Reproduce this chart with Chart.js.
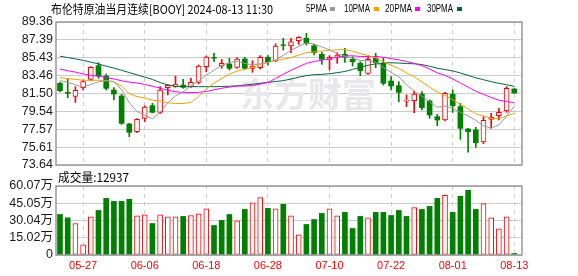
<!DOCTYPE html>
<html><head><meta charset="utf-8">
<script src="https://cdn.jsdelivr.net/npm/chart.js@4.4.1/dist/chart.umd.min.js"></script>
<style>
html,body{margin:0;padding:0;background:#fff;width:578px;height:276px;overflow:hidden}
#wrap{position:relative;width:578px;height:276px}
canvas{position:absolute;left:0;top:0}
</style></head><body>
<div id="wrap">
<canvas id="pc" width="578" height="276"></canvas>
<canvas id="vc" width="578" height="276"></canvas>
</div>
<script>
// ---------------- DATA ----------------
const dates = ['05-22','05-23','05-24','05-27','05-28','05-29','05-30','05-31','06-03','06-04',
 '06-05','06-06','06-07','06-10','06-11','06-12','06-13','06-14','06-17','06-18',
 '06-19','06-20','06-21','06-24','06-25','06-26','06-27','06-28','07-01','07-02',
 '07-03','07-04','07-05','07-08','07-09','07-10','07-11','07-12','07-15','07-16',
 '07-17','07-18','07-19','07-22','07-23','07-24','07-25','07-26','07-29','07-30',
 '07-31','08-01','08-02','08-05','08-06','08-07','08-08','08-09','08-12','08-13'];
const open  = [82.62,81.62,81.19,82.14,83.06,84.56,83.42,81.88,81.23,78.15,
 77.30,78.77,80.16,79.43,82.14,82.25,82.43,82.25,82.73,84.45,
 85.46,84.52,84.74,84.38,85.29,84.27,84.34,85.48,85.07,86.85,
 86.72,87.30,87.57,86.75,85.81,85.18,85.48,85.81,85.26,84.82,
 83.72,85.37,84.82,82.87,82.36,80.67,80.71,81.44,80.68,78.95,
 78.59,81.41,80.05,77.60,77.49,76.17,78.66,79.06,79.58,82.00];
const high  = [82.73,83.09,82.25,82.98,84.45,84.89,83.64,82.14,81.41,78.22,
 78.73,80.16,80.42,82.25,82.45,83.42,83.06,83.17,84.63,85.62,
 85.92,85.26,85.37,85.44,85.48,85.11,85.66,85.66,86.97,87.57,
 87.57,87.75,88.12,86.91,86.03,85.66,85.99,86.47,85.55,85.00,
 85.55,85.92,85.44,83.35,82.80,81.34,81.77,81.70,80.79,79.21,
 81.63,81.88,80.42,77.67,77.78,78.95,79.32,79.87,82.25,82.03];
const low   = [81.70,81.04,80.53,81.88,82.91,83.17,81.88,80.79,78.11,76.75,
 77.19,78.40,79.36,79.32,81.34,82.18,82.07,82.18,82.54,83.90,
 85.00,84.27,84.08,84.27,84.16,83.83,84.19,84.63,85.00,86.28,
 85.99,86.91,86.83,85.73,84.71,84.08,84.82,84.93,84.52,83.46,
 83.61,84.34,82.43,81.88,80.60,80.05,79.39,79.69,78.77,77.96,
 78.48,79.43,76.46,75.04,75.58,75.98,77.67,78.59,79.43,81.52];
const close = [81.81,81.52,81.85,82.80,84.38,83.42,82.07,81.44,78.22,77.23,
 78.66,80.02,79.43,81.88,82.40,82.54,82.18,82.73,84.52,85.51,
 85.38,84.82,84.27,85.29,84.27,84.52,85.48,85.00,86.72,86.78,
 87.19,87.68,87.02,85.99,85.26,85.48,85.73,85.48,85.00,84.01,
 85.26,84.89,82.62,82.32,81.63,80.78,81.44,79.94,79.14,78.59,
 81.52,80.16,77.67,77.30,76.09,78.55,78.88,79.43,82.07,81.56];
const ma5  = [82.90,82.75,82.45,82.20,82.48,82.80,82.90,82.82,81.91,80.48,
 79.52,79.11,78.71,79.44,80.48,81.25,81.69,82.35,82.87,83.50,
 84.07,84.60,84.90,85.06,84.81,84.63,84.77,84.91,85.20,85.70,
 86.24,86.68,87.08,86.94,86.63,86.29,85.90,85.59,85.39,85.14,
 85.10,84.93,84.36,83.82,83.34,82.44,81.75,81.21,80.58,79.97,
 80.13,79.87,79.42,79.05,78.55,77.95,77.70,78.05,79.00,80.10];
const ma10 = [83.24,83.15,83.05,82.95,82.95,82.95,82.95,82.75,82.30,81.48,
 81.16,81.01,80.77,80.68,80.48,80.39,80.40,80.53,81.16,81.99,
 82.66,83.14,83.63,83.97,84.15,84.35,84.68,84.91,85.13,85.26,
 85.44,85.72,86.00,86.07,86.17,86.26,86.29,86.34,86.16,85.88,
 85.69,85.41,84.97,84.61,84.24,83.77,83.34,82.78,82.20,81.66,
 81.28,80.81,80.31,79.81,79.26,79.04,78.78,78.73,79.03,79.32];
const ma20 = [84.19,84.00,83.85,83.65,83.50,83.40,83.25,83.10,82.90,82.75,
 82.65,82.50,82.30,82.10,81.85,81.70,81.60,81.60,81.62,81.73,
 81.91,82.08,82.20,82.32,82.32,82.37,82.54,82.72,83.14,83.62,
 84.05,84.43,84.81,85.02,85.16,85.31,85.48,85.62,85.65,85.57,
 85.56,85.57,85.48,85.34,85.20,85.01,84.81,84.56,84.18,83.77,
 83.49,83.11,82.64,82.21,81.75,81.40,81.06,80.76,80.61,80.49];
const ma30 = [85.60,85.45,85.30,85.15,84.95,84.75,84.50,84.30,84.05,83.80,
 83.55,83.30,83.05,82.70,82.45,82.30,82.25,82.25,82.25,82.25,
 82.25,82.27,82.30,82.35,82.43,82.52,82.62,82.72,82.82,82.91,
 83.09,83.29,83.46,83.57,83.60,83.67,83.79,83.92,84.15,84.38,
 84.60,84.76,84.86,84.88,84.85,84.79,84.77,84.68,84.50,84.27,
 84.14,83.98,83.76,83.49,83.22,83.02,82.80,82.62,82.46,82.29];
// volume in 万
const volume = [35.3,32.4,27.4,8.8,33.3,38.8,49.3,46.7,46.7,48.5,
 34.2,35.0,27.4,35.0,33.3,33.3,33.6,34.4,35.9,40.3,
 25.7,30.1,35.3,29.8,39.7,45.5,49.9,40.6,40.3,44.1,
 34.2,17.5,26.6,30.9,36.2,40.3,34.2,37.1,23.1,33.6,
 32.4,37.1,37.1,34.4,38.8,33.6,41.2,39.7,42.3,49.3,
 51.9,37.1,51.1,56.3,39.7,44.7,32.4,22.8,33.3,1.29];
// 1 = rising day (red), 0 = falling day (green) for volume bars
const volUp = [0,0,1,1,1,0,0,0,0,0, 1,1,0,1,1,1,0,1,1,1, 0,0,0,1,0,1,1,0,1,0,
 1,1,0,0,0,1,1,0,0,0, 1,0,0,0,0,0,1,0,0,0, 1,0,0,0,0,1,1,1,1,0];
const xTickIdx = [3,11,19,27,35,43,51,59];
const priceTicks = [73.64,75.605,77.57,79.535,81.50,83.465,85.43,87.395,89.36];
const priceTickLabels = ['73.64','75.61','77.57','79.54','81.50','83.46','85.43','87.39','89.36'];
const volTicks = [0,15.0175,30.035,45.0525,60.07];
const volTickLabels = ['0','15.02万','30.04万','45.05万','60.07万'];
const titleText = '布伦特原油当月连续[BOOY] 2024-08-13 11:30';
const volLabel = '成交量:12937';
const maNames = ['5PMA','10PMA','20PMA','30PMA'];

// ---------------- STYLE ----------------
const UP = '#ff0000', DN = '#008000';
const MA_COL = ['#9a9a9a','#f5a000','#ff00ff','#006838'];
const X_MIN = -0.52, X_MAX = 60.0;

const idx = dates.map((d,i)=>i);
const isUp = i => close[i] >= open[i];

const framePlugin = {
  id:'frame',
  afterDatasetsDraw(chart){
    const {ctx, chartArea:a} = chart;
    ctx.save(); ctx.strokeStyle='#999'; ctx.lineWidth=1.5;
    ctx.strokeRect(a.left, a.top, a.right-a.left, a.bottom-a.top);
    ctx.restore();
  }
};
const watermark = {
  id:'wm',
  beforeDatasetsDraw(chart){
    const ctx = chart.ctx; ctx.save();
    ctx.fillStyle='#e7e7ec';
    ctx.font='bold 34px "Noto Sans CJK SC"';
    ctx.textBaseline='middle';
    ctx.fillText('东方财富', 240, 94, 138);
    ctx.restore();
  }
};
const headText = {
  id:'head',
  afterDraw(chart){
    const ctx = chart.ctx; ctx.save();
    ctx.fillStyle='#000'; ctx.textBaseline='middle';
    ctx.font='12px "Noto Sans CJK SC"';
    ctx.fillText(titleText, 51, 9, 222);
    const pos = [[306,21,330],[344,26,374],[385,27,415],[427,26,457]];
    ctx.font='11px "Liberation Sans"';
    maNames.forEach((n,k)=>{
      ctx.fillStyle='#000';
      ctx.fillText(n, pos[k][0], 9, pos[k][1]);
      ctx.fillStyle=MA_COL[k];
      ctx.fillRect(pos[k][2], 7, 5, 4);
    });
    ctx.restore();
  }
};
const volText = {
  id:'volt',
  afterDraw(chart){
    const ctx = chart.ctx; ctx.save();
    ctx.fillStyle='#000'; ctx.textBaseline='middle';
    ctx.font='12px "Noto Sans CJK SC"';
    ctx.fillText(volLabel, 58, 177, 71);
    ctx.restore();
  }
};

const xScale = (showLabels)=>({
  type:'linear', min:X_MIN, max:X_MAX, offset:false,
  afterBuildTicks: s=>{ s.ticks = xTickIdx.map(v=>({value:v})); },
  ticks: showLabels ? {autoSkip:false, maxRotation:0, padding:4, color:UP,
     font:{family:'Liberation Sans', size:11}, callback:v=>dates[v]} : {display:false},
  grid:{color:'#cfcfcf', drawTicks:false, offset:false},
  border:{display:false, dash:[4,4]},
  afterFit: s=>{ s.height = showLabels ? 21 : 0; }
});
const yTicksCommon = {autoSkip:false, color:'#1a1a1a', padding:3};

new Chart(document.getElementById('pc'), {
  type:'bar',
  data:{ datasets:[
    {type:'line', data:idx.map(i=>({x:i,y:ma5[i]})), borderColor:MA_COL[0], borderWidth:1, pointRadius:0, order:1},
    {type:'line', data:idx.map(i=>({x:i,y:ma10[i]})), borderColor:MA_COL[1], borderWidth:1, pointRadius:0, order:1},
    {type:'line', data:idx.map(i=>({x:i,y:ma20[i]})), borderColor:MA_COL[2], borderWidth:1, pointRadius:0, order:1},
    {type:'line', data:idx.map(i=>({x:i,y:ma30[i]})), borderColor:MA_COL[3], borderWidth:1, pointRadius:0, order:1},
    {type:'bar', data:idx.map(i=>({x:i,y:[open[i],close[i]]})), grouped:false, barThickness:5,
      backgroundColor:idx.map(i=>isUp(i)?'#ffffff':DN), borderColor:idx.map(i=>isUp(i)?UP:DN),
      borderWidth:idx.map(i=>isUp(i)?1:0), borderSkipped:false, order:2},
    {type:'bar', data:idx.map(i=>({x:i,y:[low[i],high[i]]})), grouped:false, barThickness:1,
      backgroundColor:idx.map(i=>isUp(i)?UP:DN), borderWidth:0, order:3}
  ]},
  options:{
    responsive:false, animation:false, events:[], devicePixelRatio:1,
    layout:{padding:{left:0,right:56,top:22,bottom:111}},
    plugins:{legend:{display:false}, tooltip:{enabled:false}},
    scales:{
      x: xScale(false),
      y:{ type:'linear', min:73.64, max:89.36,
        afterBuildTicks: s=>{ s.ticks = priceTicks.map(v=>({value:v})); },
        ticks:Object.assign({callback:(v,i)=>priceTickLabels[i],
          font:{family:'Liberation Sans', size:12.5}}, yTicksCommon),
        grid:{color:'#cccccc', drawTicks:false}, border:{display:false},
        afterFit: s=>{ s.width = 56; } }
    }
  },
  plugins:[watermark, framePlugin, headText]
});

new Chart(document.getElementById('vc'), {
  type:'bar',
  data:{ datasets:[
    {data:idx.map(i=>({x:i,y:volume[i]})), grouped:false, barThickness:5,
      backgroundColor:idx.map(i=>volUp[i]?'#ffffff':DN), borderColor:idx.map(i=>volUp[i]?UP:DN),
      borderWidth:idx.map(i=>volUp[i]?1:0), borderSkipped:false}
  ]},
  options:{
    responsive:false, animation:false, events:[], devicePixelRatio:1,
    layout:{padding:{left:0,right:56,top:186,bottom:0}},
    plugins:{legend:{display:false}, tooltip:{enabled:false}},
    scales:{
      x: xScale(true),
      y:{ type:'linear', min:0, max:60.07,
        afterBuildTicks: s=>{ s.ticks = volTicks.map(v=>({value:v})); },
        ticks:Object.assign({callback:(v,i)=>volTickLabels[i],
          font:{family:'"Liberation Sans", "Noto Sans CJK SC"', size:12.5}}, yTicksCommon),
        grid:{color:'#cccccc', drawTicks:false}, border:{display:false},
        afterFit: s=>{ s.width = 56; } }
    }
  },
  plugins:[framePlugin, volText]
});
</script>
</body></html>
